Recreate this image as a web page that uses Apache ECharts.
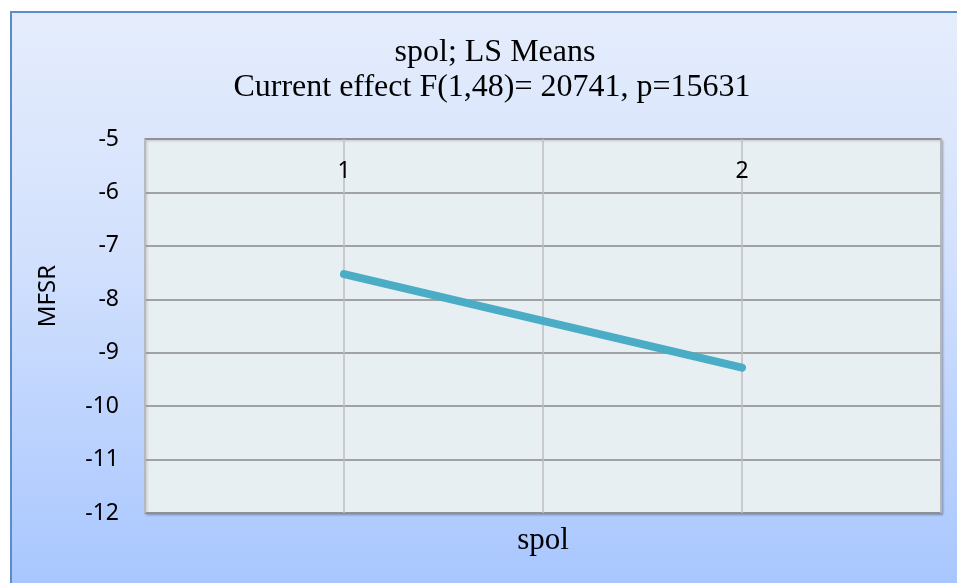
<!DOCTYPE html>
<html>
<head>
	<meta charset="utf-8">
	<title>spol; LS Means</title>
	<script src="https://cdn.jsdelivr.net/npm/echarts@6/dist/echarts.min.js"></script>
	<style type="text/css">
		body {
			margin: 0;
			background: #fff;
		}
		.frame {
			position: absolute;
			left: 10px;
			top: 11px;
			width: 960px;
			height: 590px;
			border-left: 2px solid #5B8BC8;
			border-top: 2px solid #5B8BC8;
			background: linear-gradient(to bottom, #E5EDFC 0%, #D3E1FD 40%, #A6C5FF 100%);
		}
		#chart {
			position: absolute;
			left: 0;
			top: 0;
			width: 957px;
			height: 583px;
		}
	</style>
</head>
<body>
	<div class="frame"></div>
	<div id="chart"></div>
	<script type="text/javascript">
		var categories = ['1', '2'];
		var lsMeans = [-7.53, -9.28];
		var yTicks = [-12, -11, -10, -9, -8, -7, -6, -5];

		var points = lsMeans.map(function(v, i) {
			return [i + 1, v];
		});

		var titleFont = {
			fontFamily: 'Liberation Serif',
			fontWeight: 'normal',
			fontSize: 32,
			color: '#000'
		};

		var chart = echarts.init(document.getElementById('chart'));
		var option = {
			animation: false,
			title: [{
				text: 'spol; LS Means',
				left: 490,
				top: 32,
				textAlign: 'center',
				textStyle: titleFont
			}, {
				text: 'Current effect F(1,48)= 20741, p=15631',
				left: 487,
				top: 67,
				textAlign: 'center',
				textStyle: titleFont
			}],
			grid: {
				left: 145,
				top: 139,
				right: 16,
				bottom: 70,
				show: true,
				backgroundColor: '#E8EFF3',
				borderColor: '#999',
				borderWidth: 1.5,
				shadowColor: 'rgba(0,0,0,0.18)',
				shadowBlur: 2,
				shadowOffsetX: 1.5,
				shadowOffsetY: 1.5
			},
			xAxis: [{
				type: 'value',
				position: 'top',
				min: 0.5,
				max: 2.5,
				interval: 0.5,
				axisLine: { show: false },
				axisTick: { show: false },
				axisLabel: {
					inside: true,
					margin: 21,
					fontFamily: 'Noto Sans',
					fontSize: 23,
					color: '#000',
					formatter: function(v) {
						return Number.isInteger(v) ? categories[v - 1] : '';
					}
				},
				splitLine: {
					lineStyle: { color: '#BEBEBE', width: 1.5 }
				}
			}, {
				type: 'value',
				position: 'bottom',
				min: 0.5,
				max: 2.5,
				axisLine: { show: false },
				axisTick: { show: false },
				axisLabel: { show: false },
				splitLine: { show: false },
				name: 'spol',
				nameLocation: 'middle',
				nameGap: 12,
				nameTextStyle: {
					fontFamily: 'Liberation Serif',
					fontSize: 31,
					color: '#000'
				}
			}],
			yAxis: {
				type: 'value',
				min: yTicks[0],
				max: yTicks[yTicks.length - 1],
				interval: 1,
				axisLine: { show: false },
				axisTick: { show: false },
				axisLabel: {
					margin: 26,
					fontFamily: 'Noto Sans',
					fontSize: 23,
					color: '#000'
				},
				splitLine: {
					lineStyle: { color: '#888', width: 1.5 }
				},
				name: 'MFSR',
				nameLocation: 'middle',
				nameGap: 85,
				nameTextStyle: {
					fontFamily: 'Noto Sans',
					fontSize: 24,
					color: '#000',
					padding: [0, 0, 0, 60]
				}
			},
			series: [{
				type: 'line',
				data: points,
				symbol: 'none',
				lineStyle: {
					color: '#4BACC6',
					width: 8,
					cap: 'round'
				}
			}]
		};
		chart.setOption(option);
	</script>
</body>
</html>
